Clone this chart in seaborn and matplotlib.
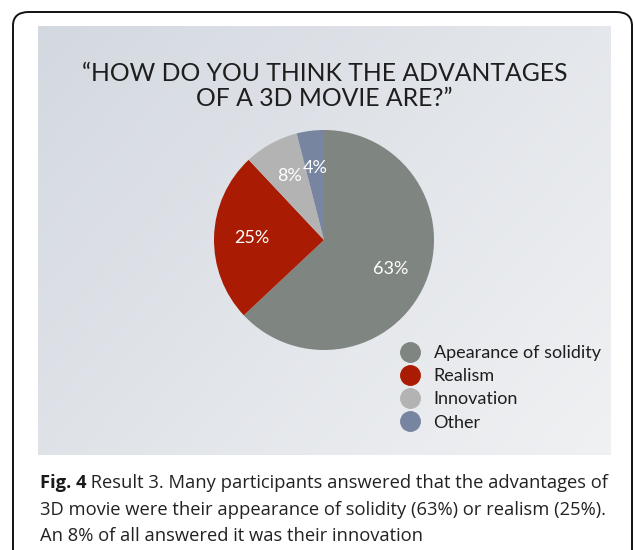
import numpy as np
import matplotlib.pyplot as plt
import seaborn as sns
from matplotlib.lines import Line2D
from matplotlib.patches import FancyBboxPatch

# --- data ---
categories = ["Apearance of solidity", "Realism", "Innovation", "Other"]
shares = [63, 25, 8, 4]
pct_labels = ["63%", "25%", "8%", "4%"]
colors = ["#7f8581", "#a91b02", "#b3b3b3", "#7885a0"]

title = "\u201cHOW DO YOU THINK THE ADVANTAGES\nOF A 3D MOVIE ARE?\u201d"
caption_bold = "Fig. 4"
caption_lines = [
    " Result 3. Many participants answered that the advantages of",
    "3D movie were their appearance of solidity (63%) or realism (25%).",
    "An 8% of all answered it was their innovation",
]

sns.set_theme(style="white")
plt.rcParams["font.family"] = ["Lato", "DejaVu Sans"]

W, H = 635, 550
fig = plt.figure(figsize=(W / 100, H / 100), dpi=100)
fig.patch.set_facecolor("white")


def box(x0, y0, x1, y1):
    # pixel box (top-left origin) -> figure fraction rect
    return [x0 / W, 1 - y1 / H, (x1 - x0) / W, (y1 - y0) / H]


# outer rounded frame
frame = FancyBboxPatch((13 / W, -0.2), (632 - 13) / W, 0.2 + 1 - 12 / H,
                       boxstyle="round,pad=0,rounding_size=0.025",
                       transform=fig.transFigure, facecolor="none",
                       edgecolor="#111111", linewidth=1.4, clip_on=False)
fig.patches.append(frame)

# slide panel with soft gradient
bg = fig.add_axes(box(38, 26, 611, 455))
gx, gy = np.meshgrid(np.linspace(0, 1, 200), np.linspace(0, 1, 200))
grad = (gx * 0.6 + gy * 0.4)
c0 = np.array([0.83, 0.85, 0.88])
c1 = np.array([0.94, 0.945, 0.952])
img = c0 + (c1 - c0) * grad[..., None]
bg.imshow(img, aspect="auto", extent=[0, 1, 0, 1])
bg.set_axis_off()

bg.text(0.5, (455 - 86) / (455 - 26), title, transform=bg.transAxes,
        ha="center", va="center", fontsize=17.8, fontweight="normal",
        color="#1e1e1e", linespacing=1.12)

# pie
cx, cy, r = 324, 240, 110
ax = fig.add_axes(box(cx - r, cy - r, cx + r, cy + r))
wedges, texts, autotexts = ax.pie(
    shares, colors=colors, startangle=90, counterclock=False,
    radius=1, autopct="%d%%", pctdistance=0.66,
    wedgeprops=dict(linewidth=0),
    textprops=dict(color="white", fontsize=13),
)
for t, lab in zip(autotexts, pct_labels):
    t.set_text(lab)
ax.set_xlim(-1, 1)
ax.set_ylim(-1, 1)
ax.set_axis_off()

# legend
handles = [Line2D([], [], marker="o", linestyle="", markersize=14,
                  markerfacecolor=c, markeredgecolor=c) for c in colors]
leg = fig.legend(handles, categories, loc="upper left",
                 bbox_to_anchor=(401 / W, 1 - 345 / H), frameon=False,
                 handlelength=1.0, handletextpad=0.8,
                 labelspacing=0.4, borderpad=0, borderaxespad=0,
                 prop=dict(size=13))
for t in leg.get_texts():
    t.set_color("#1e1e1e")

# caption
cap_font = ["Open Sans", "DejaVu Sans"]
cap_size = 13.2
t0 = fig.text(40 / W, 1 - 483 / H, caption_bold, fontsize=cap_size,
              fontweight="bold", family=cap_font, color="#1a1a1a",
              va="center")
fig.canvas.draw()
bb = t0.get_window_extent()
fig.text(bb.x1 / W, 1 - 483 / H, caption_lines[0], fontsize=cap_size,
         family=cap_font, color="#222222", va="center")
for i, line in enumerate(caption_lines[1:]):
    fig.text(40 / W, 1 - (510 + 26 * i) / H, line, fontsize=cap_size,
             family=cap_font, color="#222222", va="center")

fig.savefig("out.png", dpi=100)
